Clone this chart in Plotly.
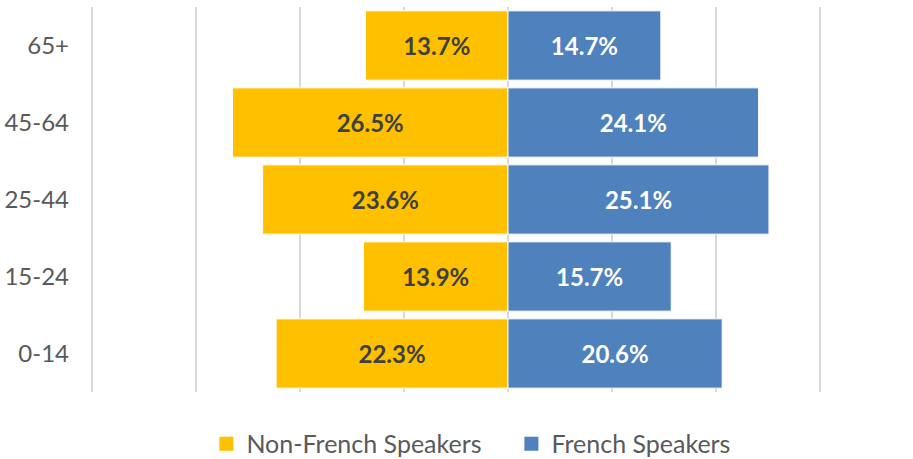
import plotly.graph_objects as go

age_groups = ["0-14", "15-24", "25-44", "45-64", "65+"]
non_french = [22.3, 13.9, 23.6, 26.5, 13.7]
french = [20.6, 15.7, 25.1, 24.1, 14.7]
x_ticks = [-40, -30, -20, -10, 0, 10, 20, 30]
series_names = ["Non-French Speakers", "French Speakers"]
colors = ["#FFC000", "#4F81BD"]

FONT = "Lato, 'Noto Sans', sans-serif"

fig = go.Figure()
fig.add_trace(go.Bar(
    y=age_groups, x=[-v for v in non_french], orientation="h",
    name=series_names[0], showlegend=False,
    marker=dict(color=colors[0], line=dict(color="white", width=1)),
    text=[f"{v:.1f}%" for v in non_french], textposition="inside",
    insidetextanchor="middle",
    textfont=dict(family=FONT, size=24, color="#404040", weight="bold"),
    hoverinfo="skip",
))
fig.add_trace(go.Bar(
    y=age_groups, x=french, orientation="h",
    name=series_names[1], showlegend=False,
    marker=dict(color=colors[1], line=dict(color="white", width=1)),
    text=[f"{v:.1f}%" for v in french], textposition="inside",
    insidetextanchor="middle",
    textfont=dict(family=FONT, size=24, color="white", weight="bold"),
    hoverinfo="skip",
))
# legend entries with square swatches
for name, col in zip(series_names, colors):
    fig.add_trace(go.Scatter(
        x=[None], y=[None], mode="markers", name=name,
        marker=dict(symbol="square", size=14, color=col),
        hoverinfo="skip",
    ))

fig.update_layout(
    width=913, height=459,
    barmode="relative", bargap=0.10,
    plot_bgcolor="white", paper_bgcolor="white",
    margin=dict(l=90, r=91, t=7, b=67, autoexpand=False),
    font=dict(family=FONT, size=24, color="#595959"),
    uniformtext=dict(mode="show", minsize=10),
    legend=dict(orientation="h", x=0.159, xanchor="left", y=-0.135, yanchor="middle",
                font=dict(size=25, color="#595959"), itemwidth=30,
                traceorder="normal", entrywidth=260, entrywidthmode="pixels"),
    showlegend=True,
)
fig.update_xaxes(range=[-40.2, 30.2], tickvals=x_ticks, showticklabels=False,
                 showgrid=True, gridcolor="#D9D9D9", gridwidth=1.5,
                 zeroline=False, showline=False, fixedrange=True, automargin=False)
fig.update_yaxes(categoryorder="array", categoryarray=age_groups,
                 showgrid=False, zeroline=False, showline=False, automargin=False,
                 fixedrange=True,
                 ticklabelstandoff=20, tickfont=dict(size=24, color="#595959"))

fig.write_html("out.html", config={"displayModeBar": False},
               post_script="document.body.style.margin='0';")
